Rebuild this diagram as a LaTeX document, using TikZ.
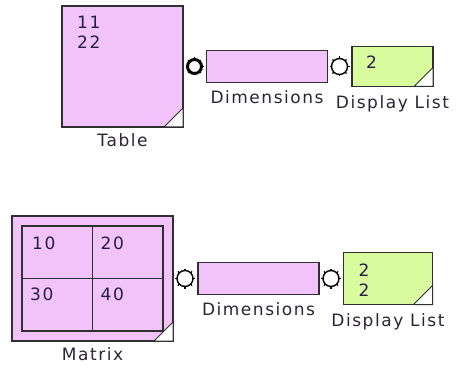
\documentclass[tikz,border=0pt]{standalone}
\usepackage{fontspec}
\usepackage{tikz}
\usetikzlibrary{positioning}
\newfontfamily\blockfont{DejaVu Sans}[LetterSpace=9]
\definecolor{blockPink}{HTML}{F2C2FB}
\definecolor{dispGreen}{HTML}{D9FC9E}
\definecolor{edgeInk}{HTML}{303030}
\definecolor{labelInk}{HTML}{2A2436}
\definecolor{valInk}{HTML}{241E4A}
\tikzset{
    blockBox/.style={draw=edgeInk, fill=blockPink, line width=1.5pt,
                     inner sep=0pt, outer sep=0pt},
    dispBox/.style={draw=edgeInk, fill=dispGreen, line width=1.5pt,
                    inner sep=0pt, outer sep=0pt},
    gridBox/.style={draw=edgeInk, line width=1.4pt, inner sep=0pt, outer sep=0pt},
    blockLbl/.style={text=labelInk, inner sep=0pt},
    valTxt/.style={text=valInk, align=left, inner sep=0pt},
    port/.style={circle, draw=black, fill=white, line width=1.4pt,
                 minimum size=16pt, inner sep=0pt, outer sep=0pt},
    portOn/.style={port, line width=3pt, minimum size=14pt},
    portTooth/.style={line width=1.4pt},
    cornerTab/.style={draw=edgeInk, fill=white, line width=1pt},
}
\begin{document}
\begin{tikzpicture}[
    x=1pt, y=-1pt,
    font=\blockfont\fontsize{17}{20}\selectfont,
]
\useasboundingbox (0,0) rectangle (464,369);

% ----- top row: Table -> Dimensions -> Display List -----
\node[blockBox, minimum width=121pt, minimum height=121pt] (tbl) at (122.5,66.5) {};
\node[valTxt, below right=10pt and 15pt of tbl.north west] (tblVal) {11\\22};
\node[blockLbl, below=6pt of tbl] (tblLbl) {Table};

\node[portOn, right=4.5pt of tbl] (tblOut) {};
\node[blockBox, minimum width=121pt, minimum height=32pt, right=5pt of tblOut] (dimA) {};
\node[blockLbl, below=8pt of dimA] (dimALbl) {Dimensions};

\node[port, right=4pt of dimA] (dimAOut) {};
\node[dispBox, minimum width=81pt, minimum height=40pt, right=4.5pt of dimAOut] (dispA) {};
\node[valTxt, below right=9.5pt and 14pt of dispA.north west] (dispAVal) {2};
\node[blockLbl, below=9pt of dispA] (dispALbl) {Display List};

% ----- bottom row: Matrix -> Dimensions -> Display List -----
\node[blockBox, minimum width=161pt, minimum height=125pt] (mtx) at (92.5,278.5) {};
\node[gridBox, minimum width=141pt, minimum height=105pt] (mtxGrid) at (mtx.center) {};
\draw[gridBox] (mtxGrid.north) -- (mtxGrid.south);
\draw[gridBox] (mtxGrid.west) -- (mtxGrid.east);
\node[valTxt, below right=11pt and 10pt of mtxGrid.north west] (cellA) {10};
\node[valTxt, below right=11pt and 8pt of mtxGrid.north] (cellB) {20};
\node[valTxt, below right=9pt and 8pt of mtxGrid.west] (cellC) {30};
\node[valTxt, below right=9pt and 8pt of mtxGrid.center] (cellD) {40};
\node[blockLbl, below=6pt of mtx] (mtxLbl) {Matrix};

\node[port, right=4pt of mtx] (mtxOut) {};
\node[blockBox, minimum width=121pt, minimum height=32pt, right=5pt of mtxOut] (dimB) {};
\node[blockLbl, below=8pt of dimB] (dimBLbl) {Dimensions};

\node[port, right=4pt of dimB] (dimBOut) {};
\node[dispBox, minimum width=89pt, minimum height=52pt, right=4.5pt of dimBOut] (dispB) {};
\node[valTxt, below right=11pt and 15pt of dispB.north west] (dispBVal) {2\\2};
\node[blockLbl, below=9pt of dispB] (dispBLbl) {Display List};

% little teeth round the ports
\foreach \p in {tblOut,dimAOut,mtxOut,dimBOut}
  \foreach \a in {0,45,...,315}
    \draw[portTooth] (\p.\a) -- ++(\a:2pt);

% folded corners
\foreach \b in {tbl,dispA,mtx,dispB}
  \draw[cornerTab] (\b.south east) -- ++(-19,0) -- ++(19,-19) -- cycle;

\end{tikzpicture}
\end{document}
